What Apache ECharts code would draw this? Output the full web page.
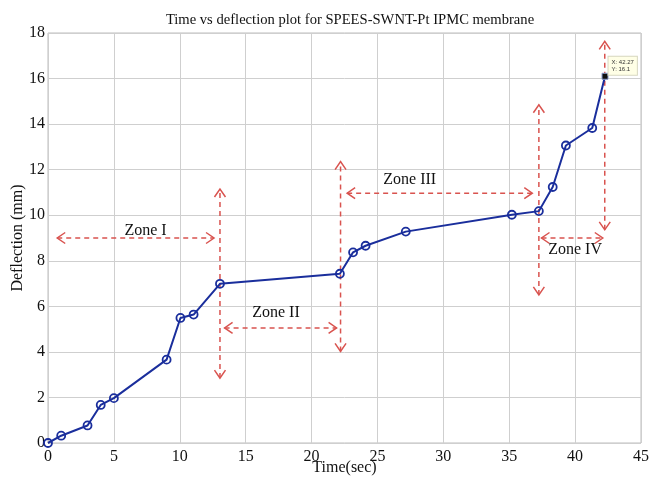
<!DOCTYPE html>
<html><head><meta charset="utf-8">
<script src="https://cdn.jsdelivr.net/npm/echarts@6/dist/echarts.min.js"></script>
<style>html,body{margin:0;padding:0;background:#fff}#c{width:649px;height:477px}</style>
</head><body><div id="c"></div>
<script>
const timeSec = [0, 1, 3, 4, 5, 9, 10.05, 11.05, 13.05, 22.15, 23.15, 24.1, 27.15, 35.2, 37.25, 38.3, 39.3, 41.3, 42.27];
const deflection = [0, 0.32, 0.77, 1.67, 1.97, 3.66, 5.49, 5.64, 6.99, 7.43, 8.37, 8.66, 9.28, 10.02, 10.18, 11.24, 13.06, 13.83, 16.1];
const xTicks = [0, 5, 10, 15, 20, 25, 30, 35, 40, 45];
const yTicks = [0, 2, 4, 6, 8, 10, 12, 14, 16, 18];
// zone arrows: [x1, y1, x2, y2]  (head at both ends)
const arrowStart = [[0.7, 9], [13.4, 5.05], [22.7, 10.97], [37.45, 9.0], [13.05, 2.85], [22.2, 4.02], [37.25, 6.5], [42.25, 9.36]];
const arrowEnd   = [[12.6, 9], [21.9, 5.05], [36.75, 10.97], [42.1, 9.0], [13.05, 11.15], [22.2, 12.35], [37.25, 14.85], [42.25, 17.63]];
const zoneNames = ['Zone I', 'Zone II', 'Zone III', 'Zone IV'];
const zoneLabelPos = [[7.4, 9.3], [17.3, 5.7], [27.45, 11.55], [40.0, 8.5]];
const tipText = ['X: 42.27', 'Y: 16.1'];

const chart = echarts.init(document.getElementById('c'));
const serif = '"Liberation Serif", "DejaVu Serif", serif';
const red = '#d9534f';
const blue = '#1a2e9c';
const ink = '#111111';

const arrowData = arrowStart.map((s, i) => [s[0], s[1], arrowEnd[i][0], arrowEnd[i][1]]);

function head(tip, from, L, W) {
  const dx = tip[0] - from[0], dy = tip[1] - from[1];
  const len = Math.sqrt(dx * dx + dy * dy) || 1;
  const ux = dx / len, uy = dy / len;
  const bx = tip[0] - ux * L, by = tip[1] - uy * L;
  return [[bx - uy * W, by + ux * W], tip, [bx + uy * W, by - ux * W]];
}

const option = {
  animation: false,
  title: {
    text: 'Time vs deflection plot for SPEES-SWNT-Pt IPMC membrane',
    left: 345, textAlign: 'center', top: 8,
    textStyle: { fontFamily: serif, fontSize: 14.6, fontWeight: 'normal', color: ink }
  },
  grid: { left: 48, right: 8, top: 33, bottom: 34, show: true, borderColor: '#bdbdbd', borderWidth: 1,
    containLabel: false, outerBoundsMode: 'none' },
  xAxis: {
    type: 'value', min: 0, max: 45, interval: 5,
    name: 'Time(sec)', nameLocation: 'middle', nameGap: 17, nameMoveOverlap: false,
    nameTextStyle: { fontFamily: serif, fontSize: 16, color: ink },
    axisLine: { show: false }, axisTick: { show: false },
    axisLabel: { fontFamily: serif, fontSize: 16, color: ink, margin: 6,
      formatter: v => xTicks.includes(v) ? String(v) : '' },
    splitLine: { show: true, lineStyle: { color: '#cfcfcf', width: 1 } }
  },
  yAxis: {
    type: 'value', min: 0, max: 18, interval: 2,
    name: 'Deflection (mm)', nameLocation: 'middle', nameGap: 22, nameRotate: 90, nameMoveOverlap: false,
    nameTextStyle: { fontFamily: serif, fontSize: 16, color: ink },
    axisLine: { show: false }, axisTick: { show: false },
    axisLabel: { fontFamily: serif, fontSize: 16, color: ink, margin: 3,
      formatter: v => yTicks.includes(v) ? String(v) : '' },
    splitLine: { show: true, lineStyle: { color: '#cfcfcf', width: 1 } }
  },
  series: [
    {
      type: 'custom',
      renderItem: function (params, api) {
        const p1 = api.coord([api.value(0), api.value(1)]);
        const p2 = api.coord([api.value(2), api.value(3)]);
        const style = { stroke: red, lineWidth: 1.5, fill: null };
        return {
          type: 'group',
          children: [
            { type: 'line', shape: { x1: p1[0], y1: p1[1], x2: p2[0], y2: p2[1] },
              style: Object.assign({ lineDash: [5, 4] }, style) },
            { type: 'polyline', shape: { points: head(p1, p2, 8, 5.5) }, style: style },
            { type: 'polyline', shape: { points: head(p2, p1, 8, 5.5) }, style: style }
          ]
        };
      },
      data: arrowData, z: 1, silent: true
    },
    {
      type: 'line',
      data: timeSec.map((t, i) => {
        const d = { value: [t, deflection[i]] };
        if (i === timeSec.length - 1) {
          d.symbol = 'rect'; d.symbolSize = 6;
          d.itemStyle = { color: '#111', borderColor: '#8899cc', borderWidth: 1 };
          d.label = {
            show: true, position: [7, -16], formatter: tipText.join('\n'),
            fontFamily: 'Arial, "Liberation Sans", sans-serif', fontSize: 6, lineHeight: 7, color: '#333',
            backgroundColor: '#ffffe6', borderColor: '#d8d8c0', borderWidth: 1, padding: [2, 3]
          };
        }
        return d;
      }),
      symbol: 'circle', symbolSize: 8,
      lineStyle: { color: blue, width: 2 },
      itemStyle: { color: 'rgba(255,255,255,0)', borderColor: blue, borderWidth: 1.8 },
      z: 3, silent: true
    },
    {
      type: 'custom',
      renderItem: function (params, api) {
        const p = api.coord([api.value(0), api.value(1)]);
        return {
          type: 'text', x: p[0], y: p[1],
          style: { text: zoneNames[params.dataIndex], fill: ink, font: '16px ' + serif,
            align: 'center', verticalAlign: 'middle' }
        };
      },
      data: zoneLabelPos, z: 4, silent: true
    }
  ]
};
chart.setOption(option);
</script>
</body></html>
